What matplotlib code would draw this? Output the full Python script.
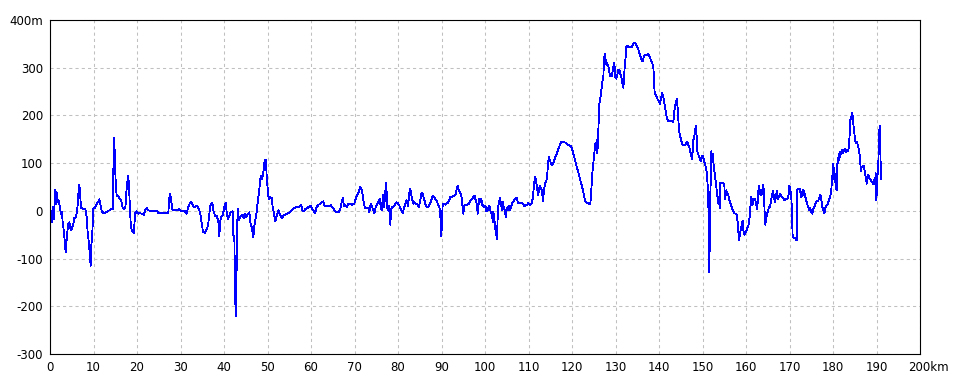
import numpy as np
import matplotlib
matplotlib.use("Agg")
import matplotlib.pyplot as plt
import matplotlib.transforms as mtransforms

# ======= DATOS (perfil de elevación) =======
dist_km = [
    0.0, 0.15, 0.38, 0.61, 0.92, 1.15, 1.38, 1.53, 1.76, 1.99, 2.15, 2.38, 2.53, 2.76, 2.91, 3.22, 3.45, 3.6, 3.75, 3.98,
    4.21, 4.44, 4.75, 4.98, 5.36, 5.59, 5.98, 6.28, 6.59, 6.74, 6.9, 7.13, 7.66, 8.12, 8.43, 8.66, 8.97, 9.2, 9.35, 9.5,
    9.73, 9.96, 10.27, 10.57, 10.88, 11.11, 11.34, 11.57, 11.88, 12.26, 12.72, 13.18, 13.64, 14.1, 14.41, 14.56, 14.71, 14.87, 15.1, 15.33,
    15.71, 16.09, 16.4, 16.7, 17.01, 17.32, 17.55, 17.78, 17.93, 18.16, 18.31, 18.54, 18.77, 19.08, 19.31, 19.54, 19.92, 20.31, 20.69, 21.07,
    21.61, 21.84, 22.22, 22.61, 22.99, 24.52, 24.9, 26.05, 27.2, 27.43,
    27.59, 27.82, 28.13, 28.51, 28.97, 29.43, 29.74, 30.04, 30.66, 31.04, 31.42, 31.8, 32.19, 32.49, 32.72, 33.11, 33.49, 33.87, 34.18, 34.49,
    34.87, 35.18, 35.64, 36.02, 36.33, 36.56, 36.79, 37.09, 37.32, 37.55, 37.93, 38.32, 38.7, 38.93, 39.08, 39.31, 39.62, 39.85, 40.08, 40.39,
    40.62, 40.92, 41.23, 41.54, 41.77, 42.0, 42.15, 42.38, 42.53, 42.69, 42.84, 42.99, 43.15, 43.38, 43.68, 43.91, 44.22, 44.52, 44.75, 45.14,
    45.52, 45.83, 46.06, 46.36, 46.59, 46.75, 46.98, 47.28, 47.51, 47.74, 48.05, 48.28, 48.43, 48.66, 48.89, 49.12, 49.35, 49.66, 49.81, 50.04,
    50.27, 50.58, 50.96, 51.19, 51.5, 51.8, 52.11, 52.49, 52.88, 53.34, 53.64, 54.1, 54.56, 55.02,
    55.17, 55.55, 56.09, 56.7, 57.32, 57.7, 58.0, 58.31, 58.69, 59.15, 59.61, 59.92, 60.23, 60.61, 60.92, 61.3, 61.76, 62.22, 62.53, 62.83,
    63.14, 63.6, 64.14, 64.52, 64.83, 65.28, 65.74, 66.28, 66.66, 67.05, 67.28, 67.58, 67.89, 68.2, 68.58, 68.96, 69.42, 69.73, 69.96, 70.27,
    70.65, 71.03, 71.26, 71.49, 71.72, 72.03, 72.41, 72.79, 73.18, 73.41, 73.71, 73.94, 74.33, 74.56, 74.86, 75.25, 75.55, 75.78, 76.01, 76.24,
    76.47, 76.63, 76.78, 77.01, 77.16, 77.32, 77.47, 77.7, 77.93, 78.08, 78.24, 78.39, 78.62, 79.0, 79.38, 79.69, 80.07, 80.46, 80.76, 81.07,
    81.38, 81.68, 81.99, 82.3, 82.6,
    82.76, 82.99, 83.22, 83.53, 83.83, 84.14, 84.45, 84.75, 85.06, 85.37, 85.67, 85.98, 86.28, 86.59, 86.97, 87.36, 87.66, 87.97, 88.28, 88.58,
    88.89, 89.2, 89.5, 89.66, 89.81, 89.96, 90.12, 90.27, 90.58, 90.88, 91.19, 91.5, 91.8, 91.96, 92.26, 92.57, 92.95, 93.26, 93.49, 93.72,
    93.95, 94.25, 94.48, 94.71, 94.87, 95.02, 95.25, 95.56, 95.94, 96.32, 96.71, 97.01, 97.32, 97.63, 97.86, 98.09, 98.32, 98.47, 98.7, 98.93,
    99.16, 99.39, 99.62, 99.85, 100.08, 100.31, 100.61, 100.92, 101.15, 101.38, 101.61, 101.76, 101.92, 102.15, 102.3, 102.53, 102.68, 102.84, 102.99, 103.22,
    103.45, 103.68, 103.91, 104.14, 104.37, 104.6, 104.75, 104.98, 105.21, 105.44, 105.75, 105.98, 106.21, 106.51, 106.9, 107.28, 107.59, 108.05, 108.51, 108.81,
    109.12, 109.43, 109.73, 109.96, 110.19,
    110.34, 110.72, 111.03, 111.26, 111.49, 111.72, 111.95, 112.18, 112.41, 112.64, 112.87, 113.1, 113.33, 113.56, 113.79, 114.02, 114.25, 114.48, 114.71, 114.94,
    115.17, 115.4, 115.7, 116.01, 116.32, 116.62, 116.93, 117.24, 117.54, 117.85, 118.16, 118.46, 118.77, 119.08, 119.38, 119.69, 119.99, 120.3, 120.61, 120.91,
    121.22, 121.53, 121.83, 122.14, 122.45, 122.75, 123.06, 123.37, 123.67, 123.98, 124.21, 124.44, 124.67, 124.9, 125.13, 125.36, 125.51, 125.67, 125.82, 125.97,
    126.13, 126.28, 126.51, 126.74, 126.97, 127.2, 127.35, 127.5, 127.66, 127.81, 128.04, 128.27, 128.5, 128.73, 128.96, 129.19, 129.42, 129.65, 129.8, 129.96,
    130.19, 130.42, 130.65, 130.88, 131.11, 131.34, 131.57, 131.8, 131.95, 132.1, 132.33, 132.49, 132.79, 133.1, 133.41, 133.71, 134.02, 134.32, 134.63, 134.86,
    135.09, 135.32, 135.55, 135.78, 136.01, 136.24, 136.47, 136.7, 137.01, 137.31, 137.54, 137.77,
    137.93, 138.24, 138.54, 138.7, 138.85, 139.0, 139.31, 139.62, 139.92, 140.23, 140.46, 140.69, 140.92, 141.15, 141.38, 141.61, 141.84, 142.07, 142.53, 142.99,
    143.29, 143.52, 143.75, 143.98, 144.14, 144.37, 144.6, 144.83, 145.06, 145.29, 145.59, 145.98, 146.28, 146.51, 146.74, 146.97, 147.2, 147.43, 147.59, 147.74,
    147.89, 148.12, 148.27, 148.43, 148.58, 148.73, 148.96, 149.19, 149.42, 149.58, 149.81, 150.04, 150.19, 150.34, 150.57, 150.8, 151.03, 151.19, 151.34, 151.42,
    151.49, 151.57, 151.65, 151.72, 151.88, 152.03, 152.18, 152.34, 152.49, 152.72, 152.95, 153.18, 153.41, 153.64, 153.79, 153.95, 154.1, 154.41, 154.79, 155.02,
    155.17, 155.32, 155.48, 155.63, 155.86, 156.09, 156.4, 156.7, 157.01, 157.32, 157.62, 157.85, 158.08, 158.24, 158.39, 158.62, 158.85, 159.08, 159.23, 159.39,
    159.62, 159.85, 160.15, 160.38, 160.61, 160.84, 160.99, 161.23, 161.46, 161.69, 161.99, 162.3, 162.53, 162.76, 162.91, 163.07, 163.29, 163.52, 163.75, 163.98,
    164.14, 164.29, 164.44, 164.6, 164.83, 165.06, 165.36,
    165.52, 165.75, 165.98, 166.21, 166.44, 166.67, 166.9, 167.13, 167.36, 167.59, 167.82, 168.05, 168.28, 168.59, 168.82, 169.12, 169.43, 169.73, 169.96, 170.19,
    170.42, 170.58, 170.73, 171.04, 171.34, 171.65, 171.8, 172.11, 172.42, 172.65, 172.8, 173.03, 173.18, 173.41, 173.64, 173.95, 174.26, 174.56, 174.79, 175.02,
    175.25, 175.48, 175.71, 175.94, 176.25, 176.55, 176.86, 177.09, 177.32, 177.55, 177.78, 178.01, 178.24, 178.47, 178.7, 178.93, 179.16, 179.39, 179.62, 179.77,
    179.93, 180.08, 180.23, 180.39, 180.54, 180.69, 180.85, 181.0, 181.15, 181.31, 181.46, 181.61, 181.84, 182.07, 182.3, 182.53, 182.76, 182.99, 183.22, 183.45,
    183.68, 183.83, 183.99, 184.14, 184.29, 184.45, 184.6, 184.75, 184.91, 185.06, 185.29, 185.52, 185.75, 185.98, 186.13, 186.29, 186.44, 186.59, 186.82, 187.05,
    187.28, 187.51, 187.74, 187.89, 188.05, 188.28, 188.51, 188.74, 188.97, 189.2, 189.43, 189.66, 189.81, 189.96, 190.12, 190.27, 190.42, 190.57, 190.72, 190.87,
    191.03,
]
elev_m = [
    -38, -3, -24, 8, -17, 43, 15, 39, 18, 22, 15, 1, -6, -3, -24, -45, -69, -87, -69, -45,
    -27, -24, -41, -38, -27, -15, -13, 4, 43, 55, 39, 6, 4, 4, -13, -45, -69, -100, -115, -73,
    -45, 4, 6, 11, 17, 20, 24, 15, -1, -4, -4, -1, 1, 4, 4, 78, 154, 124, 60, 32,
    31, 25, 20, 6, 4, 6, 39, 60, 74, 57, 18, -24, -41, -43, -46, -6, -1, -6, -5, -6,
    -8, 1, 6, 1, 0, 0, -4, -4, -4, 27,
    36, 25, 3, 1, 3, 2, 4, 0, 0, -1, -6, 9, 17, 18, 13, 8, 9, 11, 4, -3,
    -25, -45, -46, -38, -31, -13, 8, 15, 17, 1, -10, -10, -22, -53, -24, -13, -11, -3, 8, 17,
    -3, -18, -10, -3, -3, -1, -52, -53, -164, -220, -165, -52, 4, -20, -13, -11, -8, -15, -6, -13,
    -6, -3, -24, -34, -45, -55, -31, -15, -3, 18, 39, 60, 74, 67, 73, 85, 106, 106, 71, 46,
    25, 29, 27, 8, -6, -22, -10, 1, -8, -15, -10, -8, -6, -4,
    -3, 1, 6, 8, 8, 13, 2, -1, 4, 6, 9, 11, 4, 1, -5, 8, 13, 15, 18, 20,
    10, 10, 10, 12, 8, 3, -3, -3, 1, 17, 27, 9, 12, 8, 15, 14, 13, 15, 15, 25,
    34, 41, 50, 48, 43, 22, 6, 6, 5, -3, 15, 11, 1, -5, 8, 15, 20, 26, 9, 1,
    23, 34, 8, 29, 51, 59, 9, 1, 11, -10, -29, 1, 8, 9, 15, 18, 15, 8, 1, -5,
    6, 15, 22, 9, 36,
    46, 39, 25, 15, 18, 15, 13, 8, 18, 37, 37, 25, 15, 8, 9, 15, 22, 31, 29, 24,
    22, 13, 9, -3, -20, -53, -20, 13, 15, 13, 16, 17, 22, 29, 29, 31, 32, 34, 46, 53,
    43, 38, 36, 22, 4, -6, 11, 13, 13, 15, 22, 25, 29, 32, 22, 15, -6, 9, 25, 18,
    25, 11, 13, 8, 11, -1, 2, 11, 6, -5, -3, -24, -3, -13, -38, -38, -59, -34, 8, 18,
    27, 15, 1, 18, 4, 1, -13, 6, 1, 11, 2, 8, 15, 20, 25, 27, 16, 16, 16, 15,
    9, 13, 13, 16, 13,
    13, 15, 29, 55, 71, 64, 50, 32, 44, 53, 46, 43, 20, 44, 57, 62, 67, 99, 113, 105,
    100, 95, 100, 109, 116, 123, 131, 139, 144, 145, 144, 143, 141, 139, 137, 136, 130, 120, 109, 99,
    88, 78, 67, 57, 46, 32, 20, 18, 16, 15, 15, 43, 78, 99, 120, 141, 134, 148, 120, 148,
    190, 224, 235, 252, 270, 280, 312, 329, 308, 317, 306, 306, 298, 282, 287, 282, 298, 310, 303, 280,
    277, 284, 296, 296, 287, 280, 268, 258, 273, 301, 322, 345, 345, 343, 343, 343, 349, 353, 350, 346,
    342, 336, 329, 322, 317, 313, 321, 326, 326, 327, 329, 325,
    321, 314, 307, 301, 273, 247, 242, 235, 230, 224, 235, 247, 242, 231, 217, 205, 193, 189, 189, 189,
    186, 209, 223, 231, 235, 203, 169, 158, 149, 141, 137, 138, 142, 144, 137, 134, 123, 116, 109, 125,
    148, 155, 169, 176, 179, 127, 120, 114, 109, 104, 113, 116, 111, 106, 99, 90, 78, 53, 22, -41,
    -76, -129, -69, 8, 60, 125, 113, 119, 102, 85, 67, 50, 32, 15, 29, 6, 58, 58, 58, 55,
    25, 36, 43, 34, 36, 25, 16, 8, 1, -5, -6, -8, -24, -45, -62, -47, -38, -27, -20, -41,
    -50, -45, -41, -34, -29, -13, 6, 29, 11, 25, 25, 18, 4, 25, 53, 36, 43, 32, 43, 55,
    36, -6, -29, -17, -8, 1, 9,
    8, 22, 32, 41, 29, 18, 32, 41, 25, 29, 36, 32, 29, 27, 22, 25, 25, 29, 53, 46,
    29, -10, -55, -57, -58, -62, 44, 46, 46, 29, 39, 32, 44, 39, 29, 18, 8, 2, 6, -3,
    -6, 4, 8, 15, 20, 20, 27, 34, 23, 8, 1, -5, 6, 11, 13, 18, 25, 32, 46, 64,
    85, 99, 74, 60, 78, 50, 43, 99, 102, 120, 106, 123, 120, 127, 121, 127, 130, 123, 128, 125,
    134, 162, 190, 193, 202, 205, 193, 175, 164, 148, 142, 144, 137, 127, 116, 99, 83, 93, 92, 95,
    83, 72, 57, 69, 76, 71, 66, 64, 60, 57, 64, 57, 79, 22, 50, 81, 99, 151, 179, 130,
    67,
]

x_ticks = list(range(0, 201, 10))
x_labels = [str(v) for v in x_ticks[:-1]] + ["200km"]
y_ticks = list(range(-300, 401, 100))
y_labels = [str(v) for v in y_ticks[:-1]] + ["400m"]

fig = plt.figure(figsize=(9.6, 3.84), dpi=100)
ax = fig.add_axes([50 / 960, 30 / 384, 870 / 960, 334 / 384])

ax.plot(dist_km, elev_m, color="#0000ff", linewidth=0.6, antialiased=False)

ax.set_xlim(0, 200)
ax.set_ylim(-300, 400)
ax.set_xticks(x_ticks)
ax.set_xticklabels(x_labels)
ax.set_yticks(y_ticks)
ax.set_yticklabels(y_labels)
ax.tick_params(length=0, labelsize=8.5, colors="black")
ax.tick_params(axis="x", pad=5)
ax.tick_params(axis="y", pad=5)

# "200km": el numero queda centrado en la marca
lbl = ax.get_xticklabels()[-1]
lbl.set_transform(lbl.get_transform() + mtransforms.ScaledTranslation(0.085, 0, fig.dpi_scale_trans))

ax.grid(True, color="#c0c0c0", linestyle=(0, (3, 3)), linewidth=0.75)
ax.set_axisbelow(True)
for s in ax.spines.values():
    s.set_color("black")
    s.set_linewidth(0.8)

fig.savefig("out.png", dpi=100)
